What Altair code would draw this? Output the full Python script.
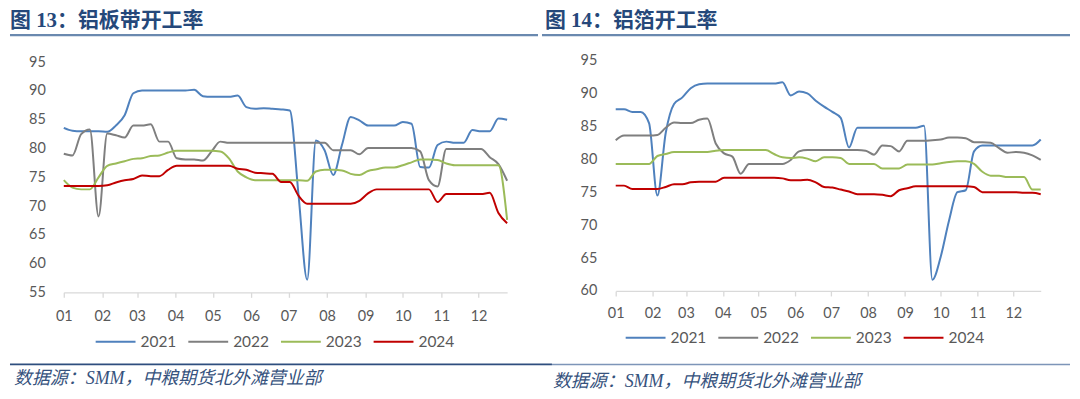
import altair as alt
import pandas as pd

YEARS = ["2021", "2022", "2023", "2024"]
COLORS = ["#4F81BD", "#7F7F7F", "#9BBB59", "#C00000"]
WIDTHS = [2, 2, 2, 3.8]
WEEKS = pd.date_range("2023-01-01", periods=52, freq="7D").strftime("%Y-%m-%d").tolist()

TITLE_L = "图 13：铝板带开工率"
TITLE_R = "图 14：铝箔开工率"
SOURCE = "数据源：SMM，中粮期货北外滩营业部"

# 铝板带开工率 (weekly)
L21 = [83.6, 83.1, 83.0, 83.0, 83.0, 82.9, 84.0, 85.8, 89.6, 90.1,
       90.1, 90.1, 90.1, 90.1, 90.1, 90.2, 89.1, 89.0, 89.0, 89.0,
       89.2, 87.2, 86.9, 87.0, 86.9, 86.8, 86.6, 72.0, 57.2, 81.4,
       79.7, 75.4, 80.6, 85.5, 84.9, 84.0, 84.0, 84.0, 84.0, 84.6,
       84.3, 76.8, 76.7, 80.6, 81.2, 81.0, 81.0, 83.2, 83.0, 83.0,
       85.2, 85.0]
L22 = [79.1, 78.8, 82.5, 83.3, 68.2, 82.6, 82.3, 81.9, 84.0, 84.0,
       84.2, 81.2, 81.2, 78.3, 78.1, 78.1, 77.9, 79.5, 81.2, 81.0,
       81.0, 81.0, 81.0, 81.0, 81.0, 81.0, 81.0, 81.0, 81.0, 81.0,
       81.0, 79.7, 79.7, 79.7, 79.0, 80.1, 80.1, 80.1, 80.1, 80.1,
       80.1, 79.5, 74.5, 73.4, 79.9, 79.9, 79.9, 79.9, 79.9, 78.5,
       77.3, 74.4]
L23 = [74.5, 73.2, 72.9, 72.9, 75.0, 77.0, 77.4, 77.8, 78.2, 78.3,
       78.7, 78.8, 79.3, 79.6, 79.6, 79.6, 79.6, 79.6, 79.5, 78.3,
       76.0, 75.0, 74.5, 74.5, 74.5, 74.5, 74.5, 74.5, 74.4, 76.0,
       76.3, 76.3, 76.2, 75.6, 75.4, 76.1, 76.4, 76.7, 76.7, 77.1,
       77.6, 78.1, 78.1, 78.0, 77.4, 77.1, 77.1, 77.1, 77.1, 77.1,
       77.1, 67.6]
L24 = [73.5, 73.5, 73.5, 73.5, 73.5, 73.6, 74.1, 74.5, 74.7, 75.3,
       75.2, 75.2, 76.3, 77.0, 77.0, 77.0, 77.0, 77.0, 77.0, 77.0,
       76.5, 76.3, 75.8, 75.7, 75.6, 74.2, 74.2, 71.8, 70.4, 70.4,
       70.4, 70.4, 70.4, 70.4, 70.9, 72.2, 72.9, 72.9, 72.9, 72.9,
       72.9, 72.9, 72.9, 70.7, 72.1, 72.1, 72.1, 72.1, 72.1, 72.3,
       68.8, 67.0]

# 铝箔开工率 (weekly)
R21 = [87.6, 87.6, 87.2, 87.2, 85.5, 74.5, 84.0, 88.4, 89.4, 90.8,
       91.4, 91.5, 91.5, 91.5, 91.5, 91.5, 91.5, 91.5, 91.5, 91.5,
       91.7, 89.7, 90.3, 90.0, 88.9, 88.0, 87.2, 86.3, 81.8, 84.8,
       84.8, 84.8, 84.8, 84.8, 84.8, 84.8, 84.8, 85.1, 61.7, 65.2,
       70.7, 75.0, 75.3, 81.2, 82.1, 82.1, 82.1, 82.1, 82.1, 82.1,
       82.1, 83.0]
R22 = [82.9, 83.6, 83.6, 83.6, 83.6, 83.7, 84.8, 85.6, 85.5, 85.5,
       86.0, 86.2, 82.4, 80.9, 80.4, 77.8, 79.3, 79.3, 79.3, 79.3,
       79.3, 79.9, 81.2, 81.4, 81.4, 81.4, 81.4, 81.4, 81.4, 81.4,
       81.3, 80.7, 82.1, 82.0, 81.2, 82.8, 82.8, 82.8, 82.9, 83.0,
       83.3, 83.3, 83.2, 82.6, 82.6, 82.5, 81.7, 81.0, 81.1, 81.0,
       80.6, 79.9]
R23 = [79.3, 79.3, 79.3, 79.3, 79.3, 80.5, 80.8, 81.1, 81.1, 81.1,
       81.1, 81.1, 81.3, 81.4, 81.4, 81.4, 81.4, 81.4, 81.4, 80.8,
       80.3, 80.2, 80.3, 80.1, 79.7, 80.3, 80.3, 80.2, 79.3, 79.3,
       79.3, 79.3, 78.6, 78.6, 78.6, 79.2, 79.2, 79.2, 79.2, 79.4,
       79.6, 79.7, 79.7, 79.3, 78.1, 77.5, 77.5, 77.3, 77.3, 77.3,
       75.4, 75.4]
R24 = [76.0, 76.0, 75.5, 75.5, 75.5, 75.5, 75.8, 76.2, 76.2, 76.5,
       76.6, 76.6, 76.6, 77.2, 77.2, 77.2, 77.2, 77.2, 77.2, 77.2,
       77.1, 76.8, 76.8, 76.9, 76.5, 75.8, 75.7, 75.4, 75.1, 74.7,
       74.7, 74.7, 74.6, 74.4, 75.3, 75.6, 75.9, 75.9, 75.9, 75.9,
       75.9, 75.9, 75.9, 75.8, 75.0, 75.0, 75.0, 75.0, 75.0, 74.9,
       74.9, 74.7]

Y_TICKS_L = [55, 60, 65, 70, 75, 80, 85, 90, 95]
Y_TICKS_R = [60, 65, 70, 75, 80, 85, 90, 95]

PW, PH = 532, 388
LABEL_FONT = "Lato"
LABEL_COLOR = "#595959"
TITLE_FONT = "Liberation Serif, Noto Sans CJK SC"


def long_df(series):
    rows = []
    for yr, vals in zip(YEARS, series):
        for d, v in zip(WEEKS, vals):
            rows.append({"date": d, "year": yr, "value": v})
    return pd.DataFrame(rows)


def one():
    return pd.DataFrame({"a": [0]})


def panel(series, title, title_x, xrange, yrange, ydom, yvals, xoff, xpad, ypad,
          leg_x, leg_y, src_x, src_y, rules):
    df = long_df(series)
    legend = alt.Legend(
        title=None, orient="none", legendX=leg_x, legendY=leg_y,
        direction="horizontal", symbolType="stroke", symbolSize=1600,
        labelFont=LABEL_FONT, labelFontSize=15.5, labelColor=LABEL_COLOR,
        labelOffset=4, columnPadding=8, padding=0,
    )
    lines = alt.Chart(df).mark_line(interpolate="monotone").encode(
        x=alt.X("date:T",
                scale=alt.Scale(type="utc",
                                domain=[alt.DateTime(year=2023, month=1, date=1, utc=True),
                                        alt.DateTime(year=2023, month=12, date=24, utc=True)],
                                range=xrange),
                axis=alt.Axis(title=None, format="%m",
                              tickCount={"interval": "month", "step": 1},
                              grid=False, domainColor="#D9D9D9", domainWidth=1.3,
                              tickColor="#D9D9D9", tickSize=5, tickWidth=1.3,
                              labelFont=LABEL_FONT, labelFontSize=14.5,
                              labelColor=LABEL_COLOR, labelPadding=xpad,
                              labelBaseline="middle", offset=xoff,
                              labelOverlap=False, labelFlush=False)),
        y=alt.Y("value:Q",
                scale=alt.Scale(domain=ydom, range=yrange, nice=False, zero=False),
                axis=alt.Axis(title=None, values=yvals, grid=False, domain=False,
                              ticks=False, tickSize=0, labelFont=LABEL_FONT,
                              labelFontSize=14.5, labelColor=LABEL_COLOR,
                              labelPadding=ypad, offset=-xrange[0],
                              labelOverlap=False)),
        color=alt.Color("year:N", scale=alt.Scale(domain=YEARS, range=COLORS),
                        legend=legend),
        strokeWidth=alt.StrokeWidth("year:N",
                                    scale=alt.Scale(domain=YEARS, range=WIDTHS),
                                    legend=legend),
        order=alt.Order("year:N"),
    )
    ttl = alt.Chart(pd.DataFrame({"t": [title]})).mark_text(
        align="left", baseline="middle", font=TITLE_FONT, fontSize=21,
        fontWeight="bold", color="#25487A"
    ).encode(x=alt.value(title_x), y=alt.value(12), text="t:N")
    src = alt.Chart(pd.DataFrame({"t": [SOURCE]})).mark_text(
        align="left", baseline="middle", font=TITLE_FONT, fontSize=18,
        fontStyle="italic", color="#36527D"
    ).encode(x=alt.value(src_x), y=alt.value(src_y), text="t:N")
    layers = [lines, ttl, src]
    for (x1, x2, y, color, w) in rules:
        layers.append(
            alt.Chart(one()).mark_rule(color=color, strokeWidth=w).encode(
                x=alt.value(x1), x2=alt.value(x2), y=alt.value(y))
        )
    return alt.layer(*layers).properties(width=PW, height=PH)


left = panel(
    [L21, L22, L23, L24], TITLE_L, 0,
    xrange=[54, 499], yrange=[284.7, 53.7], ydom=[55, 95], yvals=Y_TICKS_L,
    xoff=284.7 - PH, xpad=19, ypad=18.5,
    leg_x=85, leg_y=313, src_x=4, src_y=372,
    rules=[(0, 530, 26.5, "#6A89AF", 2.5), (0, 532, 357, "#2E4E7E", 1.8)],
)
right = panel(
    [R21, R22, R23, R24], TITLE_R, 5,
    xrange=[76, 502.6], yrange=[283.3, 52], ydom=[60, 95], yvals=Y_TICKS_R,
    xoff=283.3 - PH, xpad=17.7, ypad=19,
    leg_x=85, leg_y=309, src_x=13, src_y=375,
    rules=[(2, 532, 26.5, "#6A89AF", 2.5), (0, 12, 357, "#2E4E7E", 1.8),
           (12, 532, 357, "#7D95B8", 1.5)],
)

chart = alt.hconcat(left, right, spacing=0, bounds="flush").resolve_scale(
    color="independent", strokeWidth="independent", x="independent", y="independent"
).resolve_legend(color="independent", strokeWidth="independent").properties(
    padding=0
).configure_view(strokeWidth=0)

chart.save("out.html", embed_options={"renderer": "svg", "actions": False})
